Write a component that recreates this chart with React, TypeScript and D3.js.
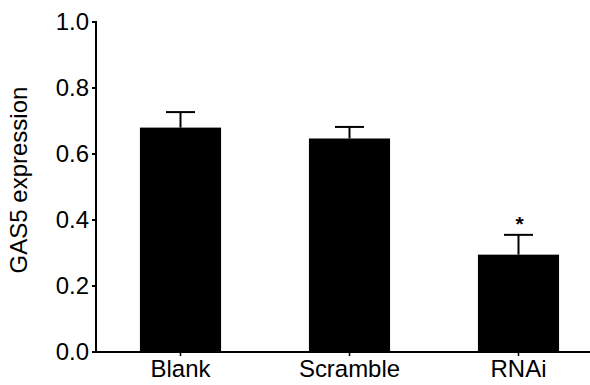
import React from "react";
import * as d3 from "d3";

const categories = ["Blank", "Scramble", "RNAi"];
const means = [0.68, 0.647, 0.295];
const errors = [0.047, 0.035, 0.06];
const significance = ["", "", "*"];
const yTicks = [0, 0.2, 0.4, 0.6, 0.8, 1.0];

const W = 590;
const H = 385;
const FONT = "'Liberation Sans', Arial, Helvetica, sans-serif";
const SX = 1.02;
const FS = 23.5;

export default function App() {
  const x0 = 96;
  const y = d3.scaleLinear().domain([0, 1]).range([352, 22]);
  const x = d3
    .scaleBand<string>()
    .domain(categories)
    .range([x0, x0 + 507])
    .paddingInner(0.52)
    .paddingOuter(0.26);
  const bw = x.bandwidth();
  const capW = 29;

  return (
    <svg
      width={W}
      height={H}
      style={{ position: "absolute", left: 0, top: 0, background: "#fff" }}
    >
      {categories.map((c, i) => {
        const cx = (x(c) as number) + bw / 2;
        const top = y(means[i]);
        const eTop = y(means[i] + errors[i]);
        return (
          <g key={c}>
            <line x1={cx} x2={cx} y1={top} y2={eTop} stroke="#000" strokeWidth={2} />
            <line
              x1={cx - capW / 2}
              x2={cx + capW / 2}
              y1={eTop}
              y2={eTop}
              stroke="#000"
              strokeWidth={2}
            />
            <rect x={x(c)} y={top} width={bw} height={y(0) - top} fill="#000" />
            {significance[i] && (
              <text
                x={cx + 1}
                y={eTop - 4}
                textAnchor="middle"
                fontFamily={FONT}
                fontSize={21}
                fontWeight="bold"
              >
                {significance[i]}
              </text>
            )}
            <line x1={cx} x2={cx} y1={y(0)} y2={y(0) + 4} stroke="#000" strokeWidth={1.5} />
            <g transform={`translate(${cx},${377}) scale(${SX},1)`}>
              <text textAnchor="middle" fontFamily={FONT} fontSize={FS} fill="#000">
                {c}
              </text>
            </g>
          </g>
        );
      })}
      {/* axes */}
      <line x1={x0} x2={x0} y1={y(1) - 1} y2={y(0) + 1} stroke="#000" strokeWidth={2} />
      <line x1={x0 - 1} x2={W} y1={y(0)} y2={y(0)} stroke="#000" strokeWidth={2} />
      {yTicks.map((t) => (
        <g key={t}>
          <line x1={x0 - 4} x2={x0} y1={y(t)} y2={y(t)} stroke="#000" strokeWidth={2} />
          <g transform={`translate(89,${y(t) + 8.4}) scale(${SX},1)`}>
            <text textAnchor="end" fontFamily={FONT} fontSize={FS} fill="#000">
              {d3.format(".1f")(t)}
            </text>
          </g>
        </g>
      ))}
      <text
        transform={`translate(27,180) rotate(-90)`}
        textAnchor="middle"
        fontFamily={FONT}
        fontSize={24}
        fill="#000"
      >
        GAS5 expression
      </text>
    </svg>
  );
}
